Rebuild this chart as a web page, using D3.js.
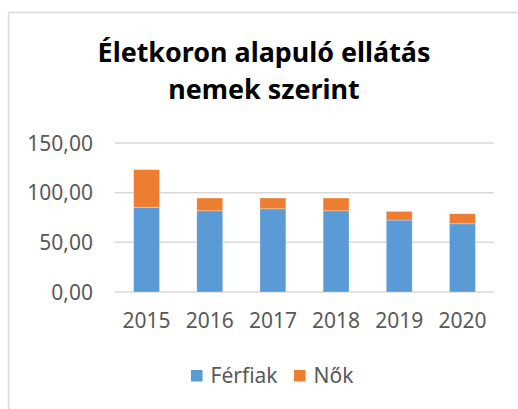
<!DOCTYPE html>
<html><head><meta charset="utf-8">
<script src="https://cdn.jsdelivr.net/npm/d3@7"></script>
<style>html,body{margin:0;padding:0;background:#fff;}svg{display:block;}</style>
</head><body>
<svg id="c" width="518" height="409"></svg>
<script>
const years = ["2015","2016","2017","2018","2019","2020"];
const ferfiak = [85.2, 81.8, 83.8, 81.8, 72.4, 68.7];
const nok = [38.0, 12.8, 10.8, 12.8, 8.7, 10.1];
const yTicks = [0, 50, 100, 150];
const seriesNames = ["Férfiak", "Nők"];
const colors = ["#5b9bd5", "#ed7d31"];
const titleLines = ["Életkoron alapuló ellátás", "nemek szerint"];

const svg = d3.select("#c");
const font = "'Noto Sans', sans-serif";

// chart frame (top and left visible edges)
svg.append("line").attr("x1",8.5).attr("x2",518).attr("y1",12.5).attr("y2",12.5).attr("stroke","#d9d9d9").attr("stroke-width",1.5);
svg.append("line").attr("x1",8.5).attr("x2",8.5).attr("y1",12.5).attr("y2",409).attr("stroke","#d9d9d9").attr("stroke-width",1.5);

const x = d3.scaleBand().domain(years).range([115, 494]).paddingInner(0.59).paddingOuter(0.295);
const y = d3.scaleLinear().domain([0, 150]).range([292, 143]);

// gridlines
svg.append("g").selectAll("line").data(yTicks).join("line")
  .attr("x1",115).attr("x2",494)
  .attr("y1",d=>y(d)).attr("y2",d=>y(d))
  .attr("stroke","#d9d9d9").attr("stroke-width",1.5);

// y labels
svg.append("g").selectAll("text").data(yTicks).join("text")
  .attr("x",93).attr("y",d=>y(d)).attr("dy","0.36em")
  .attr("text-anchor","end").attr("font-family",font).attr("font-size",21).attr("fill","#595959")
  .text(d=>d.toFixed(2).replace(".", ","));

// stacked bars
const data = years.map((yr,i)=>({year:yr, f:ferfiak[i], n:nok[i]}));
const stack = d3.stack().keys(["f","n"])(data);
svg.append("g").selectAll("g").data(stack).join("g").attr("fill",(d,i)=>colors[i])
  .selectAll("rect").data(d=>d).join("rect")
  .attr("x",d=>x(d.data.year)).attr("width",x.bandwidth())
  .attr("y",d=>y(d[1])).attr("height",d=>y(d[0])-y(d[1]))
  .attr("stroke","#fff").attr("stroke-opacity",0.35).attr("stroke-width",0.8);

// x labels
svg.append("g").selectAll("text").data(years).join("text")
  .attr("x",d=>x(d)+x.bandwidth()/2).attr("y",328)
  .attr("text-anchor","middle").attr("font-family",font).attr("font-size",21).attr("fill","#595959")
  .text(d=>d);

// title
const tg = svg.append("g");
const t1 = tg.append("text").attr("x",264).attr("y",62).attr("text-anchor","middle")
  .attr("font-family",font).attr("font-weight","bold").attr("font-size",24).attr("fill","#000").text(titleLines[0]);
const w = t1.node().getComputedTextLength();
const fs = 24*333/w;
t1.attr("font-size",fs);
tg.append("text").attr("x",264).attr("y",98.5).attr("text-anchor","middle")
  .attr("font-family",font).attr("font-weight","bold").attr("font-size",fs).attr("fill","#000").text(titleLines[1]);

// legend
const legX = [191, 294];
const lg = svg.append("g");
seriesNames.forEach((s,i)=>{
  lg.append("rect").attr("x",legX[i]).attr("y",370).attr("width",11.5).attr("height",11.5).attr("fill",colors[i]);
  lg.append("text").attr("x",legX[i]+19.5).attr("y",383).attr("font-family",font).attr("font-size",21).attr("fill","#595959").text(s);
});
</script>
</body></html>
